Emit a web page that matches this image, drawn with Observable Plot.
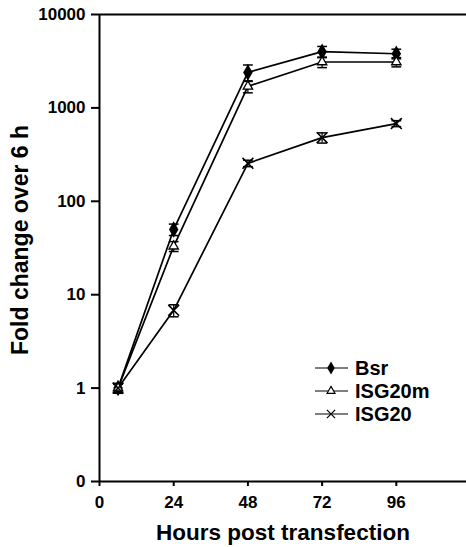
<!DOCTYPE html>
<html>
<head>
<meta charset="utf-8">
<script src="https://cdn.jsdelivr.net/npm/d3@7"></script>
<script src="https://cdn.jsdelivr.net/npm/@observablehq/plot@0.6"></script>
<style>
  html, body { margin: 0; padding: 0; background: #fff; }
  #wrap { position: relative; width: 466px; height: 547px; overflow: hidden; }
  #legend { position: absolute; left: 300px; top: 355px; }
  svg { font-family: "Liberation Sans", Arial, sans-serif; }
</style>
</head>
<body>
<div id="wrap"></div>
<script>
// ---- data ----
const hours = [6, 24, 48, 72, 96];
const bsr = [1, 50, 2400, 4000, 3800];
const bsrErr = [0.12, 7, 480, 550, 450];
const isg20m = [1, 33, 1700, 3100, 3100];
const isg20mErr = [0.12, 4, 250, 400, 350];
const isg20 = [1, 6.8, 255, 480, 680];
const isg20Err = [0.1, 1, 20, 60, 50];
const seriesNames = ["Bsr", "ISG20m", "ISG20"];
const xTicks = [0, 24, 48, 72, 96];
const yTicks = [0.1, 1, 10, 100, 1000, 10000];
const yTickLabels = ["0", "1", "10", "100", "1000", "10000"];

const table = [];
[[bsr, bsrErr], [isg20m, isg20mErr], [isg20, isg20Err]].forEach(([vals, errs], i) => {
  hours.forEach((h, j) => table.push({
    series: seriesNames[i], hour: h, value: vals[j],
    lo: vals[j] - errs[j], hi: vals[j] + errs[j]
  }));
});

const cap = {draw(ctx, size) { const r = Math.sqrt(size) / 2; ctx.moveTo(-r, 0); ctx.lineTo(r, 0); }};

const chart = Plot.plot({
  width: 466,
  height: 547,
  marginLeft: 99,
  marginRight: 0,
  marginTop: 14,
  marginBottom: 66,
  style: {fontFamily: "Liberation Sans, Arial, sans-serif", fontWeight: "bold", fontSize: "17px", color: "#000"},
  x: {domain: [0, 118.7]},
  y: {type: "log", domain: [0.1, 10000]},
  marks: [
    Plot.axisX({ticks: xTicks, tickSize: 5, tickPadding: 9, strokeWidth: 2, fontSize: 17,
      label: "Hours post transfection", labelAnchor: "center", labelArrow: "none", labelOffset: 58}),
    Plot.axisY({ticks: yTicks, tickFormat: (d) => yTickLabels[yTicks.indexOf(d)], tickSize: 8, tickPadding: 6,
      strokeWidth: 2, fontSize: 17,
      label: "Fold change over 6 h", labelAnchor: "center", labelArrow: "none", labelOffset: 88}),
    Plot.ruleY([0.1, 10000], {stroke: "#000", strokeWidth: 2}),
    Plot.ruleX([0], {stroke: "#000", strokeWidth: 2}),
    Plot.line(table, {x: "hour", y: "value", z: "series", stroke: "#000", strokeWidth: 1.7}),
    Plot.ruleX(table, {x: "hour", y1: "lo", y2: "hi", stroke: "#000", strokeWidth: 1.2}),
    Plot.dot(table, {x: "hour", y: "hi", symbol: () => cap, r: 5.5, stroke: "#000", strokeWidth: 1.5, fill: "none"}),
    Plot.dot(table, {x: "hour", y: "lo", symbol: () => cap, r: 5.5, stroke: "#000", strokeWidth: 1.5, fill: "none"}),
    Plot.dot(table.filter(d => d.series === "Bsr"), {x: "hour", y: "value", symbol: "diamond", r: 5, fill: "#000"}),
    Plot.dot(table.filter(d => d.series === "ISG20m"), {x: "hour", y: "value", symbol: "triangle2", r: 4.5, stroke: "#000", fill: "#fff", strokeWidth: 1.3}),
    Plot.dot(table.filter(d => d.series === "ISG20"), {x: "hour", y: "value", symbol: "times", r: 5, stroke: "#000", strokeWidth: 1.6})
  ]
});
document.getElementById("wrap").appendChild(chart);
d3.select(chart).selectAll("text").style("font-weight", "bold");
d3.select(chart).selectAll("g[aria-label='x-axis label'] text")
  .style("font-size", "22.5px");
d3.select(chart).selectAll("g[aria-label='y-axis label']")
  .attr("transform", function() { return "translate(0,-8) " + (this.getAttribute("transform") || ""); })
  .selectAll("text").style("font-size", "23px");

// legend
const leg = d3.select("#wrap").append("svg").attr("id", "legend").attr("width", 140).attr("height", 75);
const symMap = {Bsr: d3.symbolDiamond, ISG20m: d3.symbolTriangle2, ISG20: d3.symbolTimes};
seriesNames.forEach((name, i) => {
  const g = leg.append("g").attr("transform", `translate(0,${13 + i * 23})`);
  g.append("line").attr("x1", 15).attr("x2", 48).attr("stroke", "#000").attr("stroke-width", 1.2);
  const p = g.append("path").attr("transform", "translate(31,0)")
    .attr("d", d3.symbol(symMap[name], name === "Bsr" ? 50 : 45)());
  if (name === "Bsr") p.attr("fill", "#000");
  else p.attr("fill", "#fff").attr("stroke", "#000").attr("stroke-width", 1.2);
  g.append("text").attr("x", 55).attr("y", 0).attr("dy", "0.36em")
    .attr("font-size", 20).attr("font-weight", "bold").attr("font-family", "Liberation Sans, Arial, sans-serif")
    .text(name);
});
</script>
</body>
</html>
